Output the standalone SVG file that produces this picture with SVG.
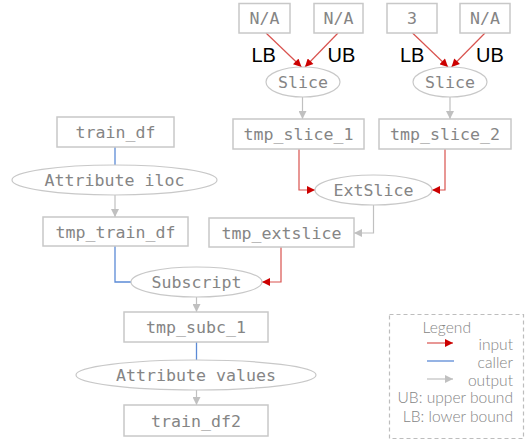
<svg xmlns="http://www.w3.org/2000/svg" width="529" height="442" viewBox="0 0 529 442">
<defs>
<style>
.box{fill:#fff;stroke:#c8c8c8;stroke-width:1.5}
.ell{fill:#fff;stroke:#c8c8c8;stroke-width:1.2}
.t{font-family:"DejaVu Sans Mono",monospace;font-size:16.6px;fill:#858585;text-anchor:middle}
.lbl{font-family:"Liberation Sans",Arial,sans-serif;font-size:20px;fill:#000}
.in{fill:none;stroke:#d9534f;stroke-width:1.2}
.caller{fill:none;stroke:#5b8ad6;stroke-width:1.3}
.out{fill:none;stroke:#c0c0c0;stroke-width:1.2}
.lg{font-family:Lato,"Open Sans",sans-serif;font-weight:300;font-size:15.6px;fill:#858585;text-anchor:end}
</style>
<marker id="ar" viewBox="0 0 10 10" refX="10" refY="5" markerWidth="9" markerHeight="8" markerUnits="userSpaceOnUse" orient="auto"><path d="M0,0L10,5L0,10z" fill="#cc0000"/></marker>
<marker id="ag" viewBox="0 0 10 10" refX="10" refY="5" markerWidth="9" markerHeight="8" markerUnits="userSpaceOnUse" orient="auto"><path d="M0,0L10,5L0,10z" fill="#c0c0c0"/></marker>
</defs>
<g id="connectors">
<path class="in" d="M266,33L301.5,67" marker-end="url(#ar)"/>
<path class="in" d="M338,33L305,67" marker-end="url(#ar)"/>
<path class="in" d="M412.5,33L448,67" marker-end="url(#ar)"/>
<path class="in" d="M485,33L451.5,67" marker-end="url(#ar)"/>
<path class="out" d="M302.5,97V119" marker-end="url(#ag)"/>
<path class="out" d="M450,97V119" marker-end="url(#ag)"/>
<path class="in" d="M299,149V190H315" marker-end="url(#ar)"/>
<path class="in" d="M445,149V190H432" marker-end="url(#ar)"/>
<path class="out" d="M373.5,205V233H354" marker-end="url(#ag)"/>
<path class="caller" d="M115,147V165"/>
<path class="out" d="M115,195V217" marker-end="url(#ag)"/>
<path class="caller" d="M115,246V282H131"/>
<path class="in" d="M281,247V282H262" marker-end="url(#ar)"/>
<path class="out" d="M196.5,297V312" marker-end="url(#ag)"/>
<path class="caller" d="M196.5,342V360"/>
<path class="out" d="M196.5,390V405" marker-end="url(#ag)"/>
</g>
<g id="na1"><rect class="box" x="239" y="3.5" width="51" height="29.5"/><text class="t" x="264.5" y="24">N/A</text></g>
<g id="na2"><rect class="box" x="314" y="3.5" width="49" height="29.5"/><text class="t" x="338.5" y="24">N/A</text></g>
<g id="n3"><rect class="box" x="387" y="3.5" width="50" height="29.5"/><text class="t" x="412" y="24">3</text></g>
<g id="na4"><rect class="box" x="460" y="3.5" width="50" height="29.5"/><text class="t" x="485" y="24">N/A</text></g>
<g id="labels">
<text class="lbl" x="251.5" y="61.5">LB</text>
<text class="lbl" x="327.5" y="61.5">UB</text>
<text class="lbl" x="400" y="61.5">LB</text>
<text class="lbl" x="476" y="61.5">UB</text>
</g>
<g id="slice1"><ellipse class="ell" cx="303" cy="82" rx="37" ry="15"/><text class="t" x="303" y="88">Slice</text></g>
<g id="slice2"><ellipse class="ell" cx="450" cy="82" rx="37" ry="15"/><text class="t" x="450" y="88">Slice</text></g>
<g id="train_df"><rect class="box" x="57" y="117" width="117" height="30"/><text class="t" x="115.5" y="138">train_df</text></g>
<g id="tmp_slice_1"><rect class="box" x="233" y="119" width="131" height="30"/><text class="t" x="298.5" y="140">tmp_slice_1</text></g>
<g id="tmp_slice_2"><rect class="box" x="379" y="119" width="132" height="30"/><text class="t" x="445" y="140">tmp_slice_2</text></g>
<g id="attr_iloc"><ellipse class="ell" cx="114.5" cy="180" rx="102.5" ry="15"/><text class="t" x="114.5" y="186">Attribute iloc</text></g>
<g id="extslice"><ellipse class="ell" cx="373.5" cy="190" rx="58.5" ry="15"/><text class="t" x="373.5" y="196">ExtSlice</text></g>
<g id="tmp_train_df"><rect class="box" x="43" y="217" width="145" height="29"/><text class="t" x="115.5" y="237.5">tmp_train_df</text></g>
<g id="tmp_extslice"><rect class="box" x="209" y="218" width="145" height="29"/><text class="t" x="281.5" y="238.5">tmp_extslice</text></g>
<g id="subscript"><ellipse class="ell" cx="196.5" cy="282" rx="65.5" ry="15"/><text class="t" x="196.5" y="288">Subscript</text></g>
<g id="tmp_subc_1"><rect class="box" x="124" y="312" width="144" height="30"/><text class="t" x="196" y="333">tmp_subc_1</text></g>
<g id="attr_values"><ellipse class="ell" cx="196" cy="375" rx="120" ry="15"/><text class="t" x="196" y="381">Attribute values</text></g>
<g id="train_df2"><rect class="box" x="124" y="405" width="144" height="31"/><text class="t" x="196" y="426.5">train_df2</text></g>
<g id="legend">
<rect x="389.5" y="314.5" width="134" height="124" fill="none" stroke="#bdbdbd" stroke-width="1.2" stroke-dasharray="4,3"/>
<text class="lg" x="471" y="333">Legend</text>
<path class="in" d="M427,343H453" marker-end="url(#ar)"/>
<text class="lg" x="513" y="350">input</text>
<path class="caller" d="M427,361H454"/>
<text class="lg" x="513" y="368">caller</text>
<path class="out" d="M427,379H453" marker-end="url(#ag)"/>
<text class="lg" x="513" y="386">output</text>
<text class="lg" x="513" y="403">UB: upper bound</text>
<text class="lg" x="513" y="422">LB: lower bound</text>
</g>
</svg>
